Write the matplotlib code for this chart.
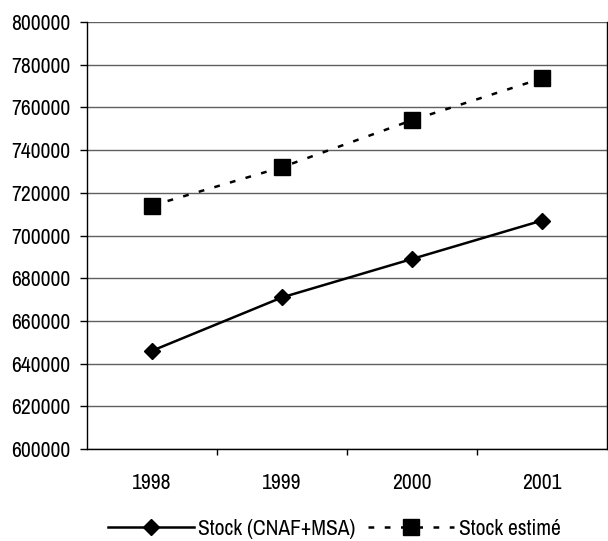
"""Stock CNAF+MSA vs stock estimé, 1998-2001."""

import matplotlib

matplotlib.use("Agg")
import matplotlib.pyplot as plt
import numpy as np
from matplotlib import font_manager

years = ["1998", "1999", "2000", "2001"]
stock_cnaf_msa = [646000, 671000, 689000, 707000]
stock_estime = [714000, 732000, 754000, 773600]
y_ticks = np.arange(600000, 800001, 20000)


def _narrow_font():
    # the reference uses a condensed face; prefer the narrowest installed one
    best = None
    for entry in font_manager.fontManager.ttflist:
        name = f"{entry.name} {entry.fname}".lower()
        if entry.style != "normal" or entry.weight not in (400, "normal", "regular", "book"):
            continue
        if "narrow" in name:
            rank = 0
        elif "condensed" in name and "semi" not in name and "dejavu" not in name:
            rank = 1
        elif entry.stretch == "condensed" or "condensed" in name:
            rank = 2
        else:
            continue
        if best is None or rank < best[0]:
            best = (rank, entry.fname)
    if best is None:
        return font_manager.FontProperties(family=["Liberation Sans", "DejaVu Sans"])
    return font_manager.FontProperties(fname=best[1])


base_font = _narrow_font()

figure = plt.figure(figsize=(6.08, 5.41), dpi=100)

# size the font so that "800000" is about 59 px wide, as in the reference
probe_font = base_font.copy()
probe_font.set_size(10)
probe = figure.text(0, 0, "800000", fontproperties=probe_font)
probe_width = probe.get_window_extent(renderer=figure.canvas.get_renderer()).width
probe.remove()
size = min(15.5, 10 * 59 / probe_width)
base_font.set_size(size)

axis = figure.add_axes([87 / 608, 92 / 541, 520 / 608, 427 / 541])

x = np.arange(len(years))
axis.plot(x, stock_cnaf_msa, color="black", linewidth=1.8, marker="D",
          markersize=8, label="Stock (CNAF+MSA)", zorder=3)
axis.plot(x, stock_estime, color="black", linewidth=1.8, linestyle=(0, (2.3, 4.2)),
          marker="s", markersize=11.5, label="Stock estimé", zorder=3)

axis.set_xlim(-0.5, len(years) - 0.5)
axis.set_ylim(600000, 800000)
axis.set_yticks(y_ticks)
axis.set_yticklabels([f"{v:d}" for v in y_ticks], fontproperties=base_font.copy())
axis.set_xticks(x)
axis.set_xticklabels(years, fontproperties=base_font.copy())
axis.set_xticks(np.arange(0.5, len(years) - 0.5), minor=True)
axis.tick_params(axis="x", which="major", length=0, pad=17)
axis.tick_params(axis="x", which="minor", length=4, width=1, direction="out")
axis.tick_params(axis="y", length=5, width=1, direction="out", pad=7)
axis.grid(True, axis="y", color="#606060", linewidth=1)
axis.set_axisbelow(True)
axis.spines["top"].set_visible(False)
for side in ("left", "bottom", "right"):
    axis.spines[side].set_color("black")
    axis.spines[side].set_linewidth(1)

figure.legend(loc="center", bbox_to_anchor=(334 / 608, 1 - 529 / 541), ncol=2,
              frameon=False, handlelength=4.0, handletextpad=0.2,
              columnspacing=0.6, borderpad=0, borderaxespad=0, prop=base_font.copy())

figure.savefig("out.png", dpi=100)
plt.close(figure)
